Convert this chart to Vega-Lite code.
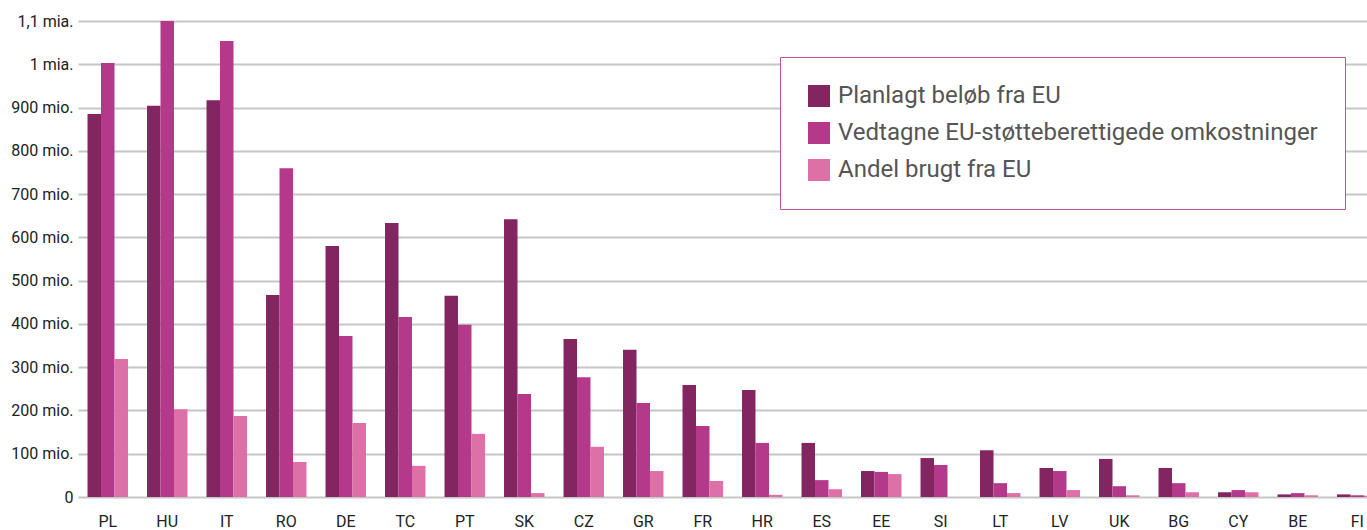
{
  "$schema": "https://vega.github.io/schema/vega-lite/v6.json",
  "autosize": {"type": "none"},
  "width": 1289,
  "height": 476,
  "padding": {"left": 78, "top": 21, "right": 0, "bottom": 33},
  "background": "white",
  "config": {
    "view": {"stroke": null},
    "font": "Roboto",
    "legend": {"strokeColor": "#c0509a", "fillColor": "white"}
  },
  "data": {
    "values": [
      {"country": "PL", "series": "Planlagt beløb fra EU", "value": 885000000},
      {"country": "PL", "series": "Vedtagne EU-støtteberettigede omkostninger", "value": 1003000000},
      {"country": "PL", "series": "Andel brugt fra EU", "value": 319000000},
      {"country": "HU", "series": "Planlagt beløb fra EU", "value": 904000000},
      {"country": "HU", "series": "Vedtagne EU-støtteberettigede omkostninger", "value": 1100000000},
      {"country": "HU", "series": "Andel brugt fra EU", "value": 203000000},
      {"country": "IT", "series": "Planlagt beløb fra EU", "value": 917000000},
      {"country": "IT", "series": "Vedtagne EU-støtteberettigede omkostninger", "value": 1054000000},
      {"country": "IT", "series": "Andel brugt fra EU", "value": 187000000},
      {"country": "RO", "series": "Planlagt beløb fra EU", "value": 467000000},
      {"country": "RO", "series": "Vedtagne EU-støtteberettigede omkostninger", "value": 760000000},
      {"country": "RO", "series": "Andel brugt fra EU", "value": 81000000},
      {"country": "DE", "series": "Planlagt beløb fra EU", "value": 580000000},
      {"country": "DE", "series": "Vedtagne EU-støtteberettigede omkostninger", "value": 372000000},
      {"country": "DE", "series": "Andel brugt fra EU", "value": 171000000},
      {"country": "TC", "series": "Planlagt beløb fra EU", "value": 633000000},
      {"country": "TC", "series": "Vedtagne EU-støtteberettigede omkostninger", "value": 416000000},
      {"country": "TC", "series": "Andel brugt fra EU", "value": 72000000},
      {"country": "PT", "series": "Planlagt beløb fra EU", "value": 465000000},
      {"country": "PT", "series": "Vedtagne EU-støtteberettigede omkostninger", "value": 398000000},
      {"country": "PT", "series": "Andel brugt fra EU", "value": 146000000},
      {"country": "SK", "series": "Planlagt beløb fra EU", "value": 642000000},
      {"country": "SK", "series": "Vedtagne EU-støtteberettigede omkostninger", "value": 238000000},
      {"country": "SK", "series": "Andel brugt fra EU", "value": 9000000},
      {"country": "CZ", "series": "Planlagt beløb fra EU", "value": 365000000},
      {"country": "CZ", "series": "Vedtagne EU-støtteberettigede omkostninger", "value": 277000000},
      {"country": "CZ", "series": "Andel brugt fra EU", "value": 116000000},
      {"country": "GR", "series": "Planlagt beløb fra EU", "value": 340000000},
      {"country": "GR", "series": "Vedtagne EU-støtteberettigede omkostninger", "value": 217000000},
      {"country": "GR", "series": "Andel brugt fra EU", "value": 60000000},
      {"country": "FR", "series": "Planlagt beløb fra EU", "value": 259000000},
      {"country": "FR", "series": "Vedtagne EU-støtteberettigede omkostninger", "value": 164000000},
      {"country": "FR", "series": "Andel brugt fra EU", "value": 37000000},
      {"country": "HR", "series": "Planlagt beløb fra EU", "value": 247000000},
      {"country": "HR", "series": "Vedtagne EU-støtteberettigede omkostninger", "value": 125000000},
      {"country": "HR", "series": "Andel brugt fra EU", "value": 5000000},
      {"country": "ES", "series": "Planlagt beløb fra EU", "value": 125000000},
      {"country": "ES", "series": "Vedtagne EU-støtteberettigede omkostninger", "value": 39000000},
      {"country": "ES", "series": "Andel brugt fra EU", "value": 18000000},
      {"country": "EE", "series": "Planlagt beløb fra EU", "value": 60000000},
      {"country": "EE", "series": "Vedtagne EU-støtteberettigede omkostninger", "value": 58000000},
      {"country": "EE", "series": "Andel brugt fra EU", "value": 53000000},
      {"country": "SI", "series": "Planlagt beløb fra EU", "value": 90000000},
      {"country": "SI", "series": "Vedtagne EU-støtteberettigede omkostninger", "value": 74000000},
      {"country": "SI", "series": "Andel brugt fra EU", "value": 0},
      {"country": "LT", "series": "Planlagt beløb fra EU", "value": 108000000},
      {"country": "LT", "series": "Vedtagne EU-støtteberettigede omkostninger", "value": 32000000},
      {"country": "LT", "series": "Andel brugt fra EU", "value": 9000000},
      {"country": "LV", "series": "Planlagt beløb fra EU", "value": 67000000},
      {"country": "LV", "series": "Vedtagne EU-støtteberettigede omkostninger", "value": 60000000},
      {"country": "LV", "series": "Andel brugt fra EU", "value": 16000000},
      {"country": "UK", "series": "Planlagt beløb fra EU", "value": 88000000},
      {"country": "UK", "series": "Vedtagne EU-støtteberettigede omkostninger", "value": 25000000},
      {"country": "UK", "series": "Andel brugt fra EU", "value": 4000000},
      {"country": "BG", "series": "Planlagt beløb fra EU", "value": 67000000},
      {"country": "BG", "series": "Vedtagne EU-støtteberettigede omkostninger", "value": 32000000},
      {"country": "BG", "series": "Andel brugt fra EU", "value": 11000000},
      {"country": "CY", "series": "Planlagt beløb fra EU", "value": 11000000},
      {"country": "CY", "series": "Vedtagne EU-støtteberettigede omkostninger", "value": 16000000},
      {"country": "CY", "series": "Andel brugt fra EU", "value": 11000000},
      {"country": "BE", "series": "Planlagt beløb fra EU", "value": 6000000},
      {"country": "BE", "series": "Vedtagne EU-støtteberettigede omkostninger", "value": 9000000},
      {"country": "BE", "series": "Andel brugt fra EU", "value": 4000000},
      {"country": "FI", "series": "Planlagt beløb fra EU", "value": 6000000},
      {"country": "FI", "series": "Vedtagne EU-støtteberettigede omkostninger", "value": 4000000},
      {"country": "FI", "series": "Andel brugt fra EU", "value": 3000000}
    ]
  },
  "mark": {"type": "bar", "clip": false},
  "encoding": {
    "x": {
      "field": "country",
      "type": "nominal",
      "sort": ["PL","HU","IT","RO","DE","TC","PT","SK","CZ","GR","FR","HR","ES","EE","SI","LT","LV","UK","BG","CY","BE","FI"],
      "scale": {"range": [0, 1309], "paddingInner": 0.32, "paddingOuter": 0.16},
      "axis": {
        "title": null,
        "labelAngle": 0,
        "ticks": false,
        "domain": false,
        "labelPadding": 16,
        "labelFontSize": 16,
        "labelColor": "#222222",
        "labelFont": "Roboto"
      }
    },
    "xOffset": {
      "field": "series",
      "type": "nominal",
      "sort": ["Planlagt beløb fra EU", "Vedtagne EU-støtteberettigede omkostninger", "Andel brugt fra EU"],
      "scale": {"paddingInner": 0, "paddingOuter": 0}
    },
    "y": {
      "field": "value",
      "type": "quantitative",
      "scale": {"domain": [0, 1100000000], "nice": false},
      "axis": {
        "title": null,
        "values": [0, 100000000, 200000000, 300000000, 400000000, 500000000, 600000000, 700000000, 800000000, 900000000, 1000000000, 1100000000],
        "labelExpr": "datum.value == 0 ? '0' : datum.value >= 1000000000 ? replace(format(datum.value/1000000000, '.2~f'), '.', ',') + ' mia.' : format(datum.value/1000000, 'd') + ' mio.'",
        "ticks": false,
        "domain": false,
        "labelPadding": 5,
        "labelFontSize": 16,
        "labelColor": "#222222",
        "gridColor": "#c6c6c6",
        "gridWidth": 2
      }
    },
    "color": {
      "field": "series",
      "type": "nominal",
      "sort": ["Planlagt beløb fra EU", "Vedtagne EU-støtteberettigede omkostninger", "Andel brugt fra EU"],
      "scale": {
        "domain": ["Planlagt beløb fra EU", "Vedtagne EU-støtteberettigede omkostninger", "Andel brugt fra EU"],
        "range": ["#822560", "#b5398b", "#de70a8"]
      },
      "legend": {
        "title": null,
        "orient": "none",
        "legendX": 702,
        "legendY": 36,
        "fillColor": "white",
        "strokeColor": "#c0509a",
        "padding": 27,
        "symbolType": "square",
        "symbolSize": 484,
        "symbolStrokeWidth": 0,
        "symbolOpacity": 1,
        "labelFontSize": 24,
        "labelColor": "#555555",
        "labelFont": "Roboto",
        "labelLimit": 600,
        "labelOffset": 7,
        "rowPadding": 13
      }
    }
  }
}
